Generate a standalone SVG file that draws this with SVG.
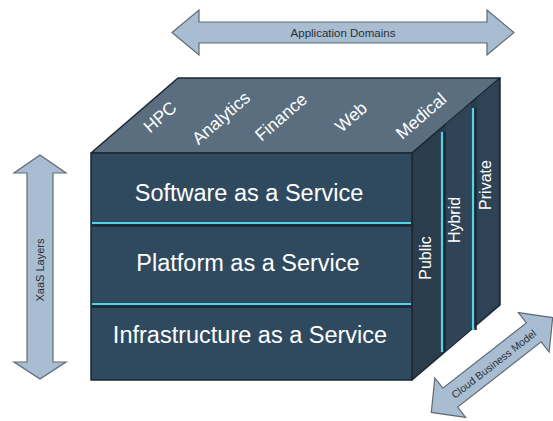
<svg xmlns="http://www.w3.org/2000/svg" width="553" height="421" viewBox="0 0 553 421">
<style>
.arrow{fill:#a8bdd1;stroke:#5e6a74;stroke-width:1.2}
.alabel{font-family:"Liberation Sans",Arial,sans-serif;fill:#2a2f35;text-anchor:middle}
.top{font-family:"Liberation Sans",Arial,sans-serif;font-size:17.5px;fill:#ffffff;text-anchor:middle}
.layer{font-family:"Liberation Sans",Arial,sans-serif;font-size:23.5px;fill:#ffffff;text-anchor:middle}
.side{font-family:"Liberation Sans",Arial,sans-serif;font-size:16px;fill:#ffffff;text-anchor:middle}
.cyan{stroke:#52d2e4;stroke-width:2.2;fill:none}
.shadow{stroke:#1a2836;stroke-width:2.5;fill:none}
.edge{stroke:#1b2733;stroke-width:1.5;stroke-linejoin:round}
</style>
<rect width="553" height="421" fill="#ffffff"/>

<g id="application-domains">
<polygon class="arrow" points="172,32.5 199,10 199,22 487,22 487,10 514,32.5 487,55 487,43 199,43 199,55"/>
<text class="alabel" x="343" y="36.5" font-size="11.5">Application Domains</text>
</g>

<g id="xaas-layers">
<polygon class="arrow" points="40,155 66,173 53,173 53,362 66,362 40,379 14,362 27,362 27,173 14,173"/>
<text class="alabel" font-size="11" transform="translate(40,270) rotate(-90)" y="4">XaaS Layers</text>
</g>

<g id="cloud-business-model" transform="translate(492,365) rotate(-38)">
<polygon class="arrow" points="-77,0 -53,-25 -53,-12 53,-12 53,-25 77,0 53,25 53,12 -53,12 -53,25"/>
<text class="alabel" font-size="10.5" x="2" y="4">Cloud Business Model</text>
</g>

<g id="cube">
<polygon id="top-face" class="edge" fill="#5a6e7f" points="91,153 178,78 500,78 412,153"/>
<polygon id="right-face" class="edge" fill="#2a3d4d" points="412,153 500,78 500,305 412,380"/>
<polygon fill="#2f4456" points="446,124 471,103 471,329 446,351"/>
<polygon fill="#2e4355" points="477,98 498,80 498,304 477,323"/>
<rect id="front-face" class="edge" fill="#2f4a5f" x="91" y="153" width="321" height="227"/>
</g>

<g id="domains">
<text class="top" transform="translate(160,117) rotate(-41)" y="6">HPC</text>
<text class="top" transform="translate(221,118) rotate(-41)" y="6">Analytics</text>
<text class="top" transform="translate(281,117) rotate(-41)" y="6">Finance</text>
<text class="top" transform="translate(351,117) rotate(-41)" y="6">Web</text>
<text class="top" transform="translate(421,116) rotate(-41)" y="6">Medical</text>
</g>

<g id="dividers">
<line class="shadow" x1="92" y1="225.5" x2="411" y2="225.5"/>
<line class="cyan" x1="92" y1="223" x2="411" y2="223"/>
<line class="shadow" x1="92" y1="306.5" x2="411" y2="306.5"/>
<line class="cyan" x1="92" y1="304" x2="411" y2="304"/>
<line class="shadow" x1="444.5" y1="132" x2="444.5" y2="352"/>
<line class="cyan" x1="442" y1="132" x2="442" y2="352"/>
<line class="shadow" x1="475.5" y1="108" x2="475.5" y2="330"/>
<line class="cyan" x1="473" y1="108" x2="473" y2="330"/>
</g>

<g id="saas"><text class="layer" x="249" y="201">Software as a Service</text></g>
<g id="paas"><text class="layer" x="248" y="271">Platform as a Service</text></g>
<g id="iaas"><text class="layer" x="250" y="343">Infrastructure as a Service</text></g>

<g id="public"><text class="side" transform="translate(425.5,258) rotate(-90)" y="5.5">Public</text></g>
<g id="hybrid"><text class="side" transform="translate(455.5,220) rotate(-90)" y="4.5">Hybrid</text></g>
<g id="private"><text class="side" transform="translate(485,185) rotate(-90)" y="5.5">Private</text></g>
</svg>
